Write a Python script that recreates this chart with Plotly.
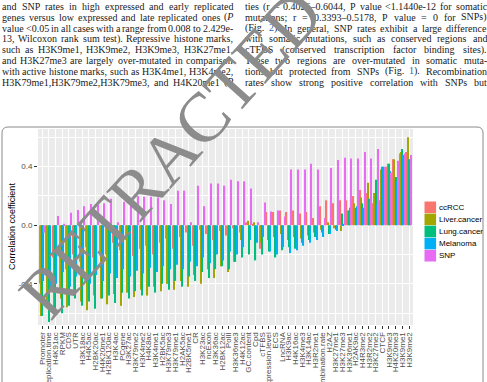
import re
import plotly.graph_objects as go

W, H = 487, 382

categories = [
    "Promoter", "Replication.time", "H4K91ac", "RPKM", "CDS", "UTR", "H3K18ac", "H4K5ac",
    "H2BK20ac", "H4K20me1", "H2BK120ac", "H3K4ac", "PCgene", "H3K27ac", "H3K79me2", "H3K4me2",
    "H4K8ac", "H3K4me1", "H2BK5ac", "H3K79me3", "H3K79me1", "H2AK5ac", "H2BK5me1", "CR",
    "H3K23ac", "ncExon", "H3K36ac", "H2BK12ac", "PolII", "H3K36me3", "H4K12ac", "GC.content",
    "Cpd", "cTFBS", "Expression.level", "ECS", "LncRNA", "H3K9ac", "H4K16ac", "H3K4me3",
    "H3K14ac", "H3R2me1", "Recombination.rate", "H2AZ", "H3K27me1", "H3K27me3", "H3K36me1",
    "H2AK9ac", "H4R3me2", "H3R2me2", "H3K27me2", "CTCF", "H3K9me3", "H4K20me3", "H3K9me1",
    "H3K9me2",
]

ccRCC = [
    -0.40, -0.33, -0.22, -0.45, -0.30, -0.20,
    -0.25, -0.15, -0.22, -0.18, -0.20, -0.12, -0.17, -0.10, -0.21, -0.16, -0.14, -0.20, -0.12, -0.09,
    -0.16, -0.08, -0.05, -0.14, -0.03, -0.06, -0.10, -0.04, -0.07, -0.02, -0.05, 0.02,
    0.01, -0.16, 0.09, 0.09, 0.10, 0.09, 0.10, 0.08, 0.09, 0.05, 0.13, 0.17, 0.15, 0.17, 0.17,
    0.20, 0.24, 0.22, 0.15, 0.17, 0.40, 0.45, 0.49, 0.50,
]
liver_cancer = [
    -0.62, -0.55, -0.60, -0.50, -0.56, -0.45,
    -0.52, -0.58, -0.48, -0.50, -0.54, -0.47, -0.55, -0.46, -0.49, -0.44, -0.48, -0.42, -0.45, -0.40,
    -0.44, -0.38, -0.42, -0.34, -0.40, -0.30, -0.36, -0.28, -0.32, -0.25, -0.10, 0.03,
    0.02, -0.12, -0.10, -0.08, -0.06, -0.10, -0.08, -0.09, -0.07, -0.05, -0.03, 0.02, -0.02, -0.04,
    0.10, 0.15, 0.19, 0.29, 0.22, 0.38, 0.42, 0.45, 0.50, 0.60,
]
lung_cancer = [
    -0.62, -0.66, -0.58, -0.60, -0.55, -0.50,
    -0.55, -0.52, -0.57, -0.50, -0.48, -0.53, -0.46, -0.50, -0.45, -0.48, -0.42, -0.46, -0.40, -0.44,
    -0.38, -0.42, -0.35, -0.38, -0.32, -0.36, -0.30, -0.28, -0.30, -0.25, -0.22, -0.20,
    -0.24, -0.20, -0.18, -0.22, -0.17, -0.15, -0.16, -0.12, -0.10, -0.08, -0.05, -0.06, -0.03,
    0.08, 0.10, 0.12, 0.15, 0.18, 0.31, 0.40, 0.42, 0.33, 0.52, 0.45,
]
melanoma = [
    -0.38, -0.45, -0.40, -0.32, -0.42, -0.35,
    -0.36, -0.40, -0.34, -0.38, -0.33, -0.36, -0.30, -0.35, -0.31, -0.33, -0.29, -0.32, -0.28, -0.30,
    -0.27, -0.30, -0.25, -0.28, -0.22, -0.26, -0.20, -0.24, -0.18, -0.20, -0.15, -0.10,
    -0.12, -0.08, -0.18, -0.20, -0.15, -0.19, -0.17, -0.14, -0.12, -0.10, -0.08, -0.06, -0.04,
    0.01, 0.12, 0.13, 0.12, 0.17, 0.14, 0.40, 0.37, 0.30, 0.48, 0.45,
]
snp = [
    -0.05, 0.0, 0.063, 0.01, 0.086, 0.104, 0.13, 0.145, 0.14, 0.15,
    0.18, 0.02, 0.16, 0.17, 0.20, 0.195, 0.195, 0.19, 0.17, 0.145,
    0.236, 0.236, 0.02, 0.27, 0.13, 0.285, 0.285, 0.27, 0.31, 0.30,
    0.30, 0.25, 0.02, 0.155, 0.093, 0.10, 0.06, 0.38, 0.38, 0.38,
    0.42, 0.38, 0.05, 0.39, 0.445, 0.46, 0.455, 0.455, 0.50, 0.455,
    0.52, 0.40, 0.36, 0.44, 0.49, 0.48,
]

series_names = ["ccRCC", "Liver.cancer", "Lung.cancer", "Melanoma", "SNP"]
series_values = [ccRCC, liver_cancer, lung_cancer, melanoma, snp]
series_colors = ["#F8766D", "#A3A500", "#00BF7D", "#00B0F6", "#E76BF3"]

ytick_vals = [-0.4, 0.0, 0.4]
ytick_text = ["-0.4", "0.0", "0.4"]
yminor_vals = [-0.6, -0.2, 0.2, 0.6]
y_title = "Correlation coefficient"

BLUE = "#2b5fb3"
left_lines = [
    "and SNP rates in high expressed and early replicated",
    "genes versus low expressed and late replicated ones ([[P]]",
    "value <0.05 in all cases with a range from 0.008 to 2.429e-",
    "13, Wilcoxon rank sum test). Repressive histone marks,",
    "such as H3K9me1, H3K9me2, H3K9me3, H3K27me1,",
    "and H3K27me3 are largely over-mutated in comparison",
    "with active histone marks, such as H3K4me1, H3K4me2,",
    "H3K79me1,H3K79me2,H3K79me3, and H4K20me1 ([[P]]",
]
right_lines = [
    "ties (r = 0.4026\u20130.6044, P value <1.1440e-12 for somatic",
    "mutations; r = 0.3393\u20130.5178, P value = 0 for SNPs)",
    "(Fig. {{2}}). In general, SNP rates exhibit a large difference",
    "with somatic mutations, such as conserved regions and",
    "cTFBS (conserved transcription factor binding sites).",
    "These two regions are over-mutated in somatic muta-",
    "tions but protected from SNPs (Fig. {{1}}). Recombination",
    "rates show strong positive correlation with SNPs but",
]

# ---------------------------------------------------------------- geometry
def px(x):
    return x / W

def py(y):
    return 1 - y / H

panel_l, panel_r, panel_t, panel_b = 38, 413, 129, 325
y_lo, y_hi = -0.681, 0.657

fig = go.Figure()
for name, vals, col in zip(series_names, series_values, series_colors):
    fig.add_trace(go.Bar(x=categories, y=vals, name=name,
                         marker=dict(color=col, line=dict(width=0)),
                         showlegend=False))

axis_font = dict(family="Liberation Sans, Arial, sans-serif", color="#4D4D4D")
fig.update_layout(
    template="none",
    width=W, height=H,
    margin=dict(l=0, r=0, t=0, b=0),
    paper_bgcolor="white", plot_bgcolor="#EBEBEB",
    barmode="group", bargap=0.1, bargroupgap=0,
    xaxis=dict(
        domain=[px(panel_l), px(panel_r)], type="category",
        categoryorder="array", categoryarray=categories,
        range=[-0.6, len(categories) - 0.4],
        tickmode="array", tickvals=categories, ticktext=categories,
        tickangle=-90, tickfont=dict(size=8, **axis_font),
        ticks="outside", ticklen=3, tickwidth=1, tickcolor="#333333",
        showgrid=True, gridcolor="white", gridwidth=1,
        zeroline=False, showline=False, automargin=False, fixedrange=True,
    ),
    yaxis=dict(
        domain=[py(panel_b), py(panel_t)], range=[y_lo, y_hi],
        tickmode="array", tickvals=ytick_vals, ticktext=ytick_text,
        tickfont=dict(size=8, **axis_font),
        ticks="outside", ticklen=3, tickwidth=1, tickcolor="#333333",
        showgrid=True, gridcolor="white", gridwidth=1,
        minor=dict(tickmode="array", tickvals=yminor_vals, showgrid=True,
                   gridcolor="white", gridwidth=0.5, ticks=""),
        zeroline=False, showline=False, automargin=False, fixedrange=True,
    ),
)

annotations = []
shapes = []

# y-axis title
annotations.append(dict(xref="paper", yref="paper", x=px(12), y=py((panel_t + panel_b) / 2),
                        text=y_title, textangle=-90, showarrow=False,
                        font=dict(family="Liberation Sans, Arial, sans-serif", size=9, color="black"),
                        xanchor="center", yanchor="middle"))

# manual legend
leg_x0, leg_y0, key, step = 424.5, 201.5, 11.6, 12.1
for i, (name, col) in enumerate(zip(series_names, series_colors)):
    y0 = leg_y0 + i * step
    shapes.append(dict(type="rect", xref="paper", yref="paper",
                       x0=px(leg_x0), x1=px(leg_x0 + key), y0=py(y0), y1=py(y0 + key),
                       fillcolor=col, line=dict(width=0)))
    annotations.append(dict(xref="paper", yref="paper", x=px(leg_x0 + key + 1), y=py(y0 + key / 2),
                            text=name, showarrow=False, xanchor="left", yanchor="middle",
                            font=dict(family="Liberation Sans, Arial, sans-serif", size=8, color="black")))

# rounded frame round the figure
bx0, bx1, by0, r = 2, 483, 127, 6
frame = (f"M {px(bx0)},{py(400)} L {px(bx0)},{py(by0 + r)} "
         f"Q {px(bx0)},{py(by0)} {px(bx0 + r)},{py(by0)} "
         f"L {px(bx1 - r)},{py(by0)} Q {px(bx1)},{py(by0)} {px(bx1)},{py(by0 + r)} "
         f"L {px(bx1)},{py(400)}")
shapes.append(dict(type="path", xref="paper", yref="paper", path=frame,
                   line=dict(color="#8a8a8a", width=1)))

# justified body text (Times metrics)
TW = {" ": 250, ".": 250, ",": 250, "(": 333, ")": 333, "-": 333, "<": 564, "=": 564,
      ";": 278, ":": 278, "\u2013": 500}
for ch, w in zip("abcdefghijklmnopqrstuvwxyz",
                 [444, 500, 444, 500, 444, 333, 500, 500, 278, 278, 500, 278, 778, 500, 500,
                  500, 500, 333, 389, 278, 500, 500, 722, 500, 500, 444]):
    TW[ch] = w
for ch, w in zip("ABCDEFGHIJKLMNOPQRSTUVWXYZ",
                 [722, 667, 667, 722, 611, 556, 722, 722, 333, 389, 722, 611, 889, 722, 722,
                  556, 722, 667, 556, 611, 722, 722, 944, 722, 722, 611]):
    TW[ch] = w
for ch in "0123456789":
    TW[ch] = 500

TEXT_SIZE = 10
line_y0, line_step = 6.5, 10.8


def plain_text(word):
    return word.replace("[[", "").replace("]]", "").replace("{{", "").replace("}}", "")


def markup(word):
    word = re.sub(r"\[\[(.*?)\]\]", r"<i>\1</i>", word)
    word = re.sub(r"\{\{(.*?)\}\}", rf"<span style='color:{BLUE}'>\1</span>", word)
    return word


def word_w(word):
    return sum(TW.get(c, 500) for c in plain_text(word)) / 1000 * TEXT_SIZE


def set_lines(lines, x0, x1):
    for k, line in enumerate(lines):
        words = line.split(" ")
        widths = [word_w(w) for w in words]
        gap = (x1 - x0 - sum(widths)) / max(len(words) - 1, 1)
        x = x0
        for w, ww in zip(words, widths):
            annotations.append(dict(xref="paper", yref="paper", x=px(x - 1), y=py(line_y0 + k * line_step),
                                    text=markup(w), showarrow=False, xanchor="left", yanchor="middle",
                                    font=dict(family="Liberation Serif, Times New Roman, serif",
                                              size=TEXT_SIZE, color="#1a1a1a")))
            x += ww + gap


set_lines(left_lines, 1, 232)
set_lines(right_lines, 244, 486)

# watermark
annotations.append(dict(xref="paper", yref="paper", x=px(171), y=py(154), text="RETRACTED",
                        textangle=-48, showarrow=False, xanchor="center", yanchor="middle",
                        font=dict(family="Liberation Serif, Times New Roman, serif", size=70,
                                  color="#8c8c8c")))

fig.update_layout(annotations=annotations, shapes=shapes)
fig.write_html("out.html", config={"displayModeBar": False})
